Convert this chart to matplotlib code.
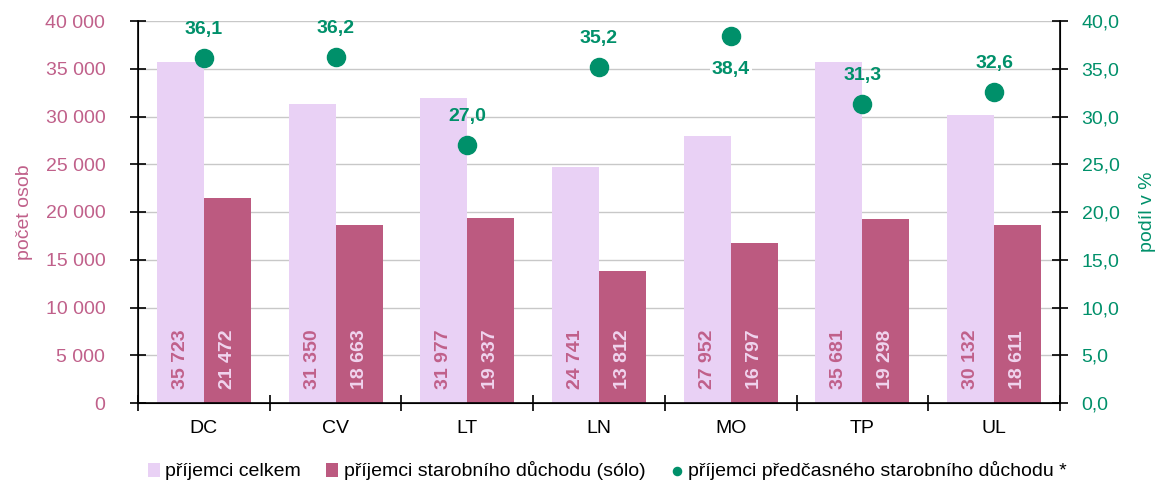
import matplotlib
matplotlib.use("Agg")
import matplotlib.pyplot as plt
import numpy as np

categories = ["DC", "CV", "LT", "LN", "MO", "TP", "UL"]
total = [35723, 31350, 31977, 24741, 27952, 35681, 30132]
solo = [21472, 18663, 19337, 13812, 16797, 19298, 18611]
share = [36.1, 36.2, 27.0, 35.2, 38.4, 31.3, 32.6]
label_below = [False, False, False, False, True, False, False]

plt.rcParams['font.family'] = ['Liberation Sans', 'DejaVu Sans']

light = '#E9D1F5'
dark = '#BC5A80'
pink_text = '#C0608A'
green = '#00906A'

fig = plt.figure(figsize=(11.57, 4.82), dpi=100)
ax = fig.add_axes([138/1157, 1-403/482, (1060-138)/1157, (403-21)/482])
ax2 = ax.twinx()

x = np.arange(len(categories))
w = 0.357
b1 = ax.bar(x - w/2, total, w, color=light, label='příjemci celkem', zorder=2)
b2 = ax.bar(x + w/2, solo, w, color=dark, label='příjemci starobního důchodu (sólo)', zorder=2)

def fmt(v):
    return f"{v:,}".replace(",", " ")

for xi, v in zip(x, total):
    ax.text(xi - w/2, 1500, fmt(v), rotation=90, ha='center', va='bottom',
            fontsize=14, fontweight='bold', color=pink_text, zorder=3)
for xi, v in zip(x, solo):
    ax.text(xi + w/2, 1500, fmt(v), rotation=90, ha='center', va='bottom',
            fontsize=14, fontweight='bold', color='#F0D4EE', zorder=3)

ax.set_xlim(-0.5, len(categories) - 0.5)
ax.set_ylim(0, 40000)
ax.set_yticks(np.arange(0, 40001, 5000))
ax.set_yticklabels([fmt(v) for v in range(0, 40001, 5000)])
ax.yaxis.grid(True, color='#C8C8C8', linewidth=1, zorder=0)
ax.set_axisbelow(True)
ax.set_xticks(x)
ax.set_xticklabels(categories)
ax.set_xticks(np.arange(-0.5, len(categories) + 0.5, 1), minor=True)
ax.tick_params(axis='x', which='major', length=0, labelsize=14, pad=12, labelcolor='black')
ax.tick_params(axis='x', which='minor', length=11, direction='inout', width=1.2)
ax.tick_params(axis='y', direction='inout', length=11, width=1.2, labelsize=14,
               labelcolor=pink_text, pad=18)
ax.set_ylabel('počet osob', color=pink_text, fontsize=14, labelpad=9)
for s in ['top']:
    ax.spines[s].set_visible(False)
    ax2.spines[s].set_visible(False)
for s in ['left', 'right', 'bottom']:
    ax2.spines[s].set_linewidth(1.2)

sc = ax2.scatter(x, share, s=170, color=green, zorder=5,
                 label='příjemci předčasného starobního důchodu *')
ax2.set_ylim(0, 40)
ax2.set_yticks(np.arange(0, 40.1, 5))
ax2.set_yticklabels([f"{v:.1f}".replace(".", ",") for v in np.arange(0, 40.1, 5)])
ax2.tick_params(axis='y', direction='inout', length=11, width=1.2, labelsize=14,
                labelcolor=green, pad=10)
ax2.set_ylabel('podíl v %', color=green, fontsize=14, labelpad=14)

for xi, v, below in zip(x, share, label_below):
    off = -3.5 if below else 3.0
    ax2.text(xi, v + off, f"{v:.1f}".replace(".", ","), ha='center', va='center',
             fontsize=14, fontweight='bold', color=green, zorder=6,
             bbox=dict(facecolor='white', edgecolor='none', pad=1.5) if below else None)

handles = [b1, b2, sc]
labels = [h.get_label() for h in handles]
leg = fig.legend(handles, labels, loc='center', bbox_to_anchor=(0.525, 1-471/482),
                 ncol=3, frameon=False, fontsize=14, handlelength=0.6,
                 handletextpad=0.3, columnspacing=1.3, markerscale=0.45)

fig.savefig('out.png', dpi=100)
